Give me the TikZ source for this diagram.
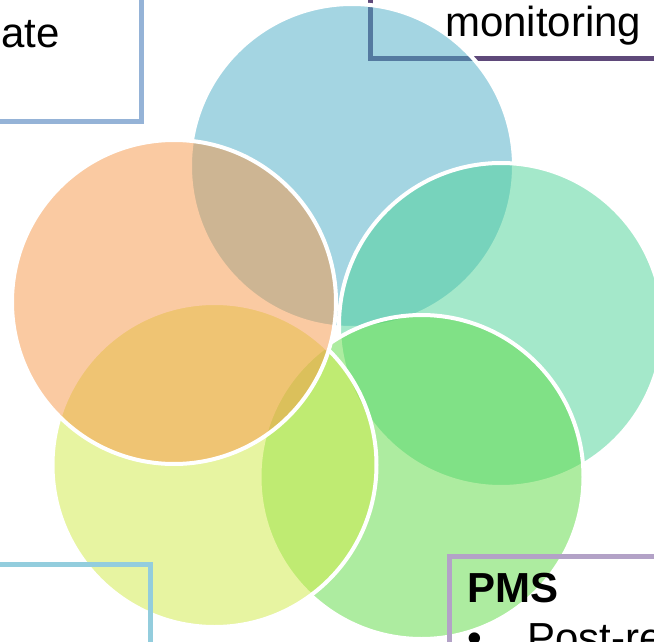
\documentclass[tikz,border=0pt]{standalone}
\usepackage{fontspec}
\setmainfont{Liberation Sans}
\definecolor{cblue}{HTML}{4BACC6}
\definecolor{cteal}{HTML}{4BD397}
\definecolor{cgreen}{HTML}{5DDB43}
\definecolor{cyellow}{HTML}{D1EB45}
\definecolor{corange}{HTML}{F79646}
\definecolor{lnA}{HTML}{95B3D7}
\definecolor{lnB}{HTML}{5F497A}
\definecolor{lnC}{HTML}{93CDDD}
\definecolor{lnD}{HTML}{B3A2C7}
\tikzset{
  petal/.style={circle, draw=white, line width=4pt, fill opacity=0.5, draw opacity=1, minimum size=324pt, inner sep=0pt},
  boxline/.style={line width=5pt},
  lbl/.style={inner sep=0pt, font=\fontsize{42}{50}\selectfont}
}
\begin{document}
\begin{tikzpicture}[x=1pt,y=-1pt]
\useasboundingbox (0,0) rectangle (654,642);
\clip (0,0) rectangle (654,642);
\fill[white] (0,0) rectangle (654,642);
% boxes behind the circles
\draw[boxline, lnA] (-100,-100) rectangle (141.5,122);
\draw[boxline, lnB] (370,-100) rectangle (760,58.5);
% circles
\node[petal, fill=cblue]   (blue)   at (352,166) {};
\node[petal, fill=cteal]   (teal)   at (501,325) {};
\node[petal, fill=cgreen]  (green)  at (421.5,477) {};
\node[petal, fill=cyellow] (yellow) at (214.5,465) {};
\node[petal, fill=corange] (orange) at (174,302) {};
% boxes in front
\draw[boxline, lnC] (-100,564) rectangle (150,760);
\draw[boxline, lnD] (449.5,556.5) rectangle (760,760);
% texts
\node[lbl, anchor=base east] (tA) at (60,48) {ate};
\node[lbl, anchor=base west] (tB) at (445,37) {monitoring};
\node[lbl, anchor=base west, font=\fontsize{42}{50}\selectfont\bfseries] (tC) at (467,602) {PMS};
\node[lbl, anchor=base west] (tD) at (467,652) {•};
\node[lbl, anchor=base west] (tE) at (527,652) {Post-re};
\end{tikzpicture}
\end{document}
